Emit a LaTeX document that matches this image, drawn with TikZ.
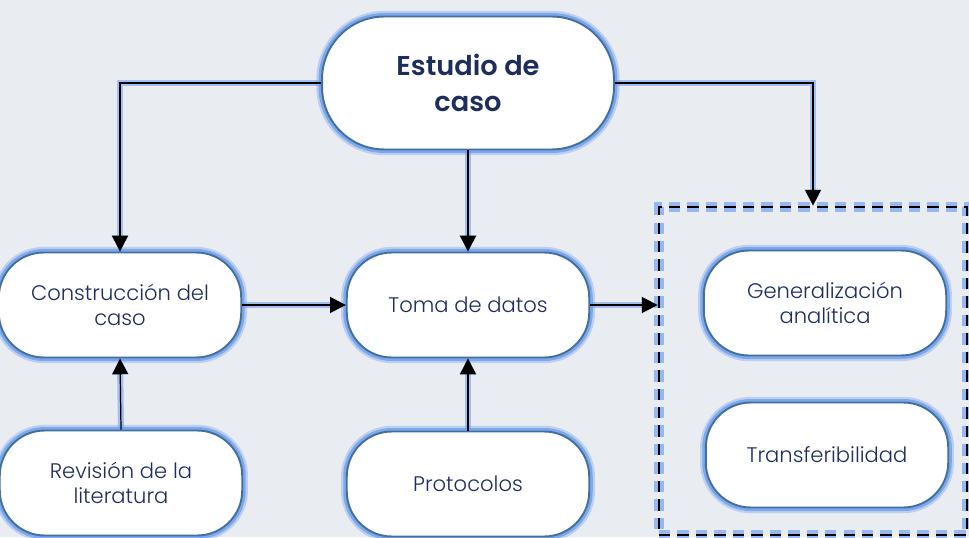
\documentclass[tikz,border=0pt]{standalone}
\usepackage{fontspec}
\setmainfont{Poppins}[UprightFont={* Light}, BoldFont={* SemiBold}]
\usetikzlibrary{arrows.meta}
\definecolor{fondo}{HTML}{E9ECF1}
\definecolor{borde}{HTML}{41709C}
\definecolor{brillo}{HTML}{6A9BEE}
\definecolor{texto}{HTML}{1F2D5C}

\begin{document}
\begin{tikzpicture}[x=0.02cm, y=-0.02cm,
		caja/.style = {draw=borde, line width=1.1pt, fill=white, rounded corners=0.9cm,
			minimum width=4.85cm, minimum height=2.1cm, align=center, text=texto,
			font=\fontsize{12}{14.5}\selectfont,
			preaction={draw=brillo, line width=6.5pt, opacity=0.35},
			preaction={draw=brillo, line width=4pt, opacity=0.75}},
		flecha/.style = {draw=black, line width=0.7pt, -{Triangle[length=9pt,width=9pt]},
			preaction={draw=brillo, line width=3.5pt, opacity=0.55}},
		marco/.style = {draw=black, line width=1.6pt, dash pattern=on 6.5pt off 4pt,
			preaction={draw=brillo, line width=5.5pt, opacity=0.65}}
	]
	\fill[fondo] (0,0) rectangle (969,537);
	\useasboundingbox (0,0) rectangle (969,537);

	\node[marco, minimum width=6.16cm, minimum height=6.56cm] (resultados) at (813,371) {};

	\node[caja, minimum width=5.84cm, minimum height=2.66cm, rounded corners=1.25cm,
		font=\bfseries\fontsize{15.5}{20}\selectfont] (estudio) at (468,83) {Estudio de\\caso};
	\node[caja] (construccion) at (120,305) {Construcción del\\caso};
	\node[caja] (toma) at (468,305) {Toma de datos};
	\node[caja] (generalizacion) at (825,303) {Generalización\\analítica};
	\node[caja] (revision) at (121,483) {Revisión de la\\literatura};
	\node[caja] (protocolos) at (468,484) {Protocolos};
	\node[caja] (transferibilidad) at (827,455) {Transferibilidad};

	\draw[flecha] (estudio.west) -| (construccion.north);
	\draw[flecha] (estudio.south) -- (toma.north);
	\draw[flecha] (estudio.east) -| (resultados.north);
	\draw[flecha] (construccion.east) -- (toma.west);
	\draw[flecha] (toma.east) -- (toma.east -| resultados.west);
	\draw[flecha] (revision.north) -- (construccion.south);
	\draw[flecha] (protocolos.north) -- (toma.south);
\end{tikzpicture}
\end{document}
